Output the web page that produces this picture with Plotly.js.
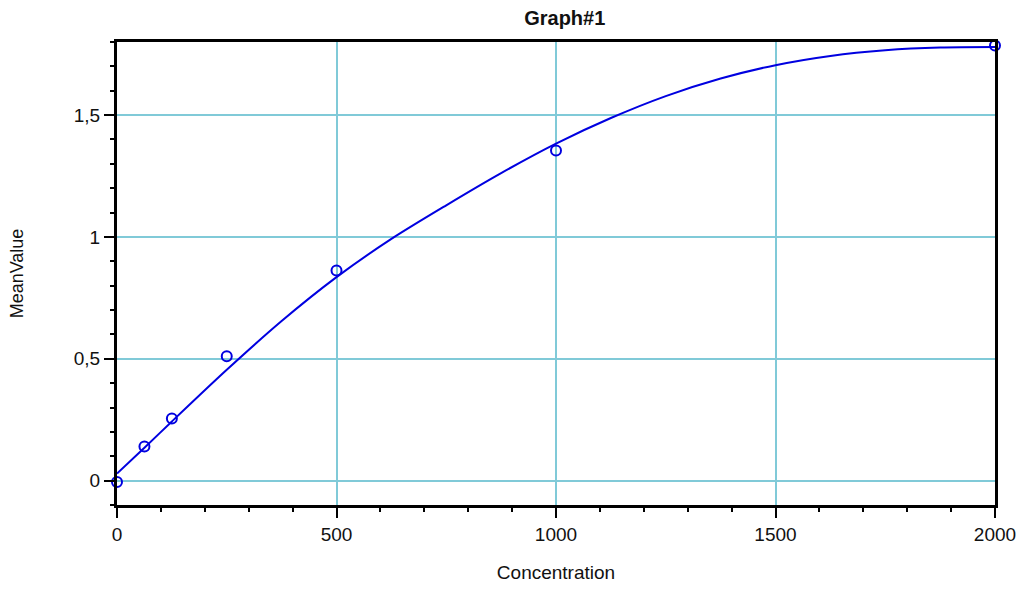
<!DOCTYPE html>
<html>
<head>
<meta charset="utf-8">
<script src="https://cdn.plot.ly/plotly-3.0.1.min.js"></script>
<style>html,body{margin:0;padding:0;background:#fff;}#chart{width:1025px;height:590px;}</style>
</head>
<body>
<div id="chart"></div>
<script>
// Measured standards
const concentration = [0, 62.5, 125, 250, 500, 1000, 2000];
const meanValue = [-0.006, 0.14, 0.255, 0.51, 0.862, 1.355, 1.786];

// Fitted curve
const fitX = [0, 62.5, 125, 250, 375, 500, 625, 750, 875, 1000, 1125, 1250, 1375, 1500, 1625, 1750, 1875, 2000];
const fitY = [0.029, 0.135, 0.243, 0.455, 0.655, 0.835, 0.992, 1.13, 1.262, 1.383, 1.488, 1.578, 1.650, 1.705, 1.743, 1.766, 1.777, 1.779];

const xTicks = [0, 500, 1000, 1500, 2000];
const yTicks = [0, 0.5, 1, 1.5];
const yTickText = ['0', '0,5', '1', '1,5'];

const blue = '#0000e0';
const grid = '#80cad8';

const traces = [
  {
    x: fitX, y: fitY, type: 'scatter', mode: 'lines',
    line: {color: blue, width: 2, shape: 'spline', smoothing: 0.8},
    hoverinfo: 'skip', showlegend: false
  },
  {
    x: concentration, y: meanValue, type: 'scatter', mode: 'markers',
    marker: {symbol: 'circle-open', size: 10, color: blue, line: {color: blue, width: 2}},
    cliponaxis: false, showlegend: false
  }
];

const axisFont = {family: 'Liberation Sans, Arial, sans-serif', size: 19, color: '#111'};

const layout = {
  width: 1025, height: 590,
  margin: {l: 117, r: 30, t: 42, b: 85, pad: 0},
  paper_bgcolor: '#fff', plot_bgcolor: '#fff',
  font: axisFont,
  title: {
    text: '<b>Graph#1</b>',
    font: {family: 'Liberation Sans, Arial, sans-serif', size: 20, color: '#111'},
    xref: 'container', x: 0.551, xanchor: 'center',
    yref: 'container', y: 0.969, yanchor: 'middle'
  },
  xaxis: {
    range: [0, 2000],
    tickvals: xTicks,
    ticktext: xTicks.map(String),
    ticks: 'outside', ticklen: 10, tickwidth: 2, tickcolor: '#000',
    minor: {dtick: 100, tick0: 0, ticks: 'outside', ticklen: 4, tickwidth: 2, tickcolor: '#000', showgrid: false},
    showline: true, linecolor: '#000', linewidth: 3, mirror: true,
    showgrid: true, gridcolor: grid, gridwidth: 2,
    zeroline: false,
    tickfont: axisFont,
    title: {text: 'Concentration', font: axisFont, standoff: 22}
  },
  yaxis: {
    range: [-0.1, 1.8],
    tickvals: yTicks,
    ticktext: yTickText,
    ticks: 'outside', ticklen: 10, tickwidth: 2, tickcolor: '#000',
    minor: {dtick: 0.1, tick0: 0, ticks: 'outside', ticklen: 4, tickwidth: 2, tickcolor: '#000', showgrid: false},
    showline: true, linecolor: '#000', linewidth: 3, mirror: true,
    showgrid: true, gridcolor: grid, gridwidth: 2,
    zeroline: false,
    tickfont: axisFont,
    title: {text: 'MeanValue', font: {family: 'Liberation Sans, Arial, sans-serif', size: 18, color: '#111'}, standoff: 46}
  }
};

Plotly.newPlot('chart', traces, layout, {displayModeBar: false, staticPlot: true});
</script>
</body>
</html>
